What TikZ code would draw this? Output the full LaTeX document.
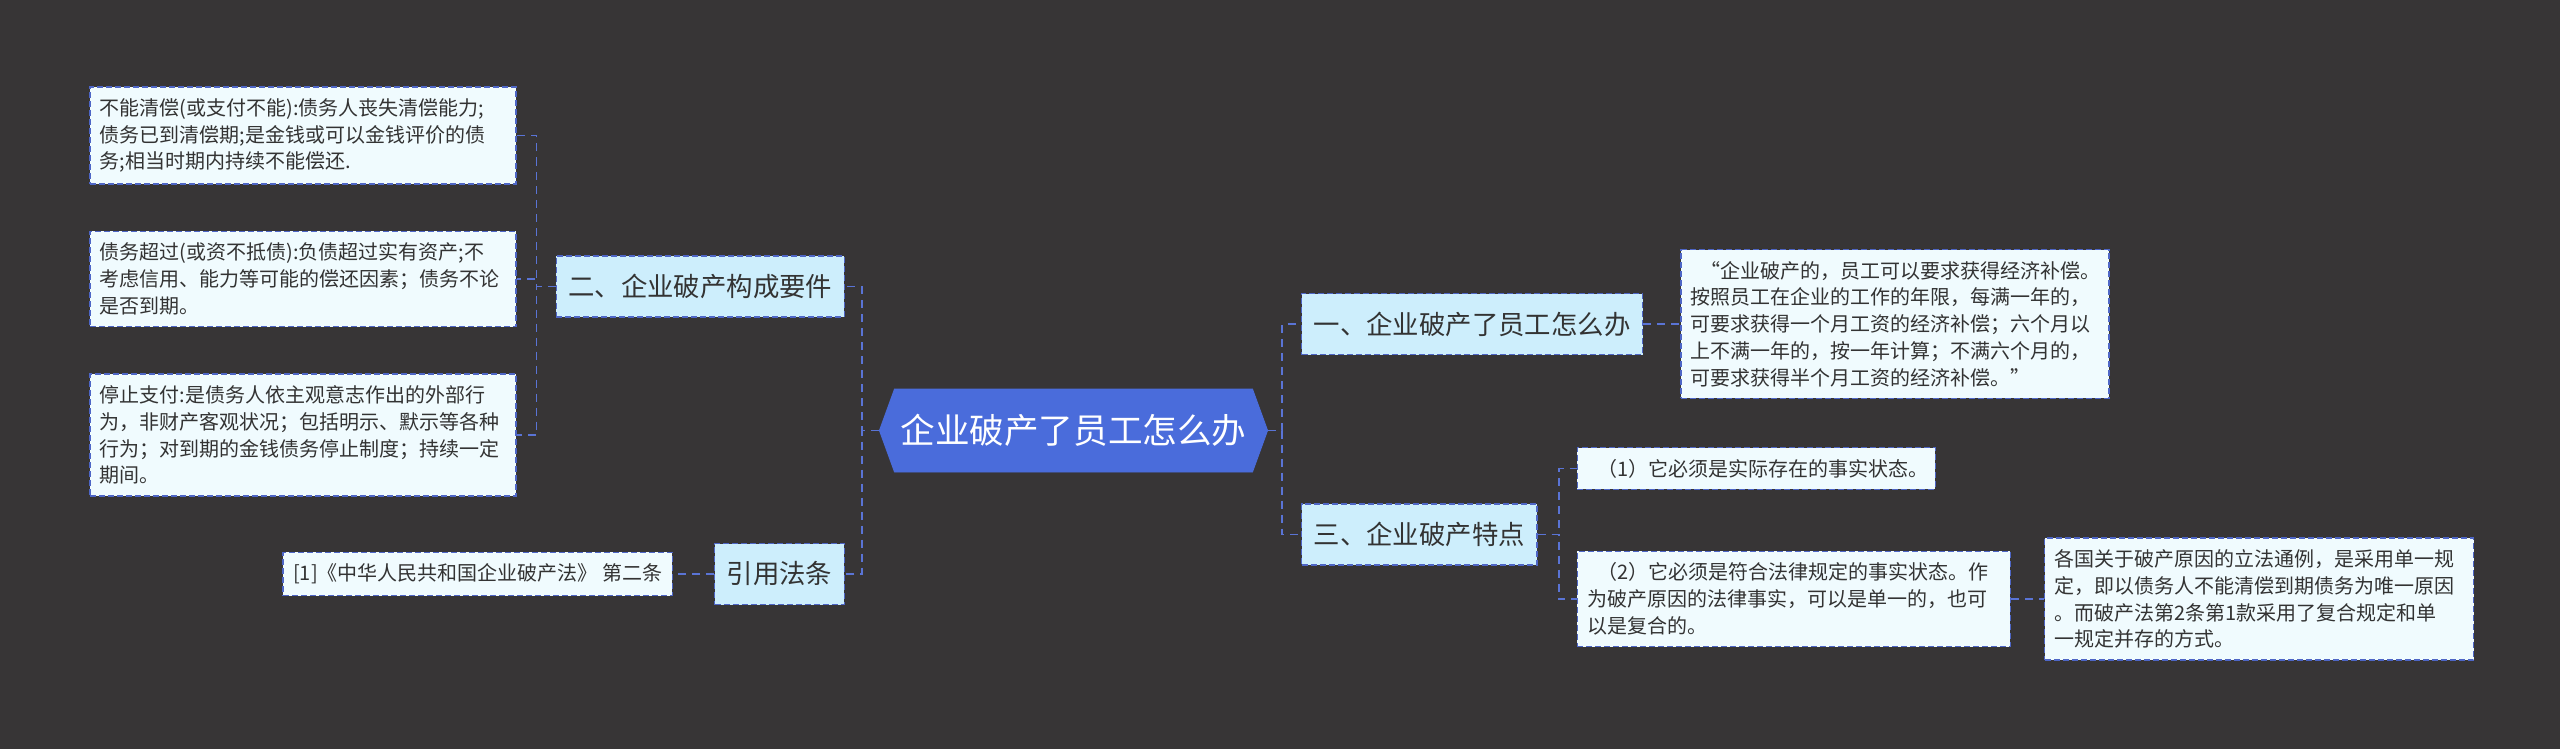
\documentclass[tikz,border=0pt]{standalone}
\usepackage{fontspec}
\setmainfont{Noto Sans CJK SC}
\usepackage{tikz}
\usetikzlibrary{positioning, shapes.symbols}
\definecolor{bgdark}{HTML}{373536}
\definecolor{inkgray}{HTML}{333333}
\definecolor{rootblue}{HTML}{4A6CDB}
\definecolor{edgeblue}{HTML}{4E66C6}
\definecolor{linkblue}{HTML}{5A74D6}
\definecolor{branchfill}{HTML}{CDEEFC}
\definecolor{leaffill}{HTML}{F0FBFE}

\begin{document}
\begin{tikzpicture}[
  node distance=19pt,
  every node/.style={text=inkgray},
  root/.style={signal, signal to=west and east, signal pointer angle=140,
    fill=rootblue, draw=rootblue, text=white, inner xsep=3pt,
    minimum height=41.5pt, font=\fontsize{17.3pt}{20pt}\selectfont},
  branch/.style={rectangle, draw=edgeblue, fill=branchfill, line width=0.7pt,
    dash pattern=on 3pt off 1.5pt, minimum height=30.5pt, inner xsep=6pt,
    font=\fontsize{13.2pt}{16pt}\selectfont},
  leaf/.style={rectangle, draw=edgeblue, fill=leaffill, line width=0.7pt,
    dash pattern=on 3pt off 1.5pt, align=left, inner xsep=5pt, inner ysep=5.7pt,
    font=\fontsize{10pt}{13.4pt}\selectfont},
  link/.style={draw=linkblue, line width=0.9pt, dash pattern=on 4pt off 3pt}
]
\path[use as bounding box, fill=bgdark] (0,0) rectangle (1280pt,-374.5pt);

% Root and branches
\node (Root) [root] at (536.75pt,-215.25pt) {企业破产了员工怎么办};
\node (Req) [branch, left=17pt of Root, yshift=72pt] {二、企业破产构成要件};
\node (Law) [branch, left=17pt of Root, yshift=-71.75pt] {引用法条};
\node (Staff) [branch, right=16.5pt of Root, yshift=53.25pt] {一、企业破产了员工怎么办};
\node (Feat) [branch, right=16.5pt of Root, yshift=-52pt] {三、企业破产特点};

% Left leaves
\node (Insolv) [leaf, text width=203pt, left=19.5pt of Req, yshift=75.5pt] {不能清偿(或支付不能):债务人丧失清偿能力;\\债务已到清偿期;是金钱或可以金钱评价的债\\务;相当时期内持续不能偿还.};
\node (Excess) [leaf, text width=203pt, left=19.5pt of Req, yshift=3.75pt] {债务超过(或资不抵债):负债超过实有资产;不\\考虑信用、能力等可能的偿还因素；债务不论\\是否到期。};
\node (Halt) [leaf, text width=203pt, left=19.5pt of Req, yshift=-74.25pt] {停止支付:是债务人依主观意志作出的外部行\\为，非财产客观状况；包括明示、默示等各种\\行为；对到期的金钱债务停止制度；持续一定\\期间。};
\node (Cite) [leaf, left=20.5pt of Law] {[1]《中华人民共和国企业破产法》 第二条};

% Right leaves
\node (Comp) [leaf, text width=204pt, right=18.5pt of Staff] {\hspace*{0.5em}“企业破产的，员工可以要求获得经济补偿。\\按照员工在企业的工作的年限，每满一年的，\\可要求获得一个月工资的经济补偿；六个月以\\上不满一年的，按一年计算；不满六个月的，\\可要求获得半个月工资的经济补偿。”};
\node (Real) [leaf, text width=169pt, right=19.5pt of Feat, yshift=33pt] {\hspace*{0.5em}（1）它必须是实际存在的事实状态。};
\node (Legal) [leaf, text width=206.5pt, right=19.5pt of Feat, yshift=-32.25pt] {\hspace*{0.5em}（2）它必须是符合法律规定的事实状态。作\\为破产原因的法律事实，可以是单一的，也可\\以是复合的。};
\node (Cause) [leaf, text width=204.5pt, right=16.5pt of Legal] {各国关于破产原因的立法通例，是采用单一规\\定，即以债务人不能清偿到期债务为唯一原因\\。而破产法第2条第1款采用了复合规定和单\\一规定并存的方式。};

% Connectors
\draw[link] (Root.west) -- ++(-8.5pt,0) |- (Req.east);
\draw[link] (Root.west) -- ++(-8.5pt,0) |- (Law.east);
\draw[link] (Root.east) -- ++(7pt,0) |- (Staff.west);
\draw[link] (Root.east) -- ++(7pt,0) |- (Feat.west);
\draw[link] (Req.west) -- ++(-9.5pt,0) |- (Insolv.east);
\draw[link] (Req.west) -- ++(-9.5pt,0) |- (Excess.east);
\draw[link] (Req.west) -- ++(-9.5pt,0) |- (Halt.east);
\draw[link] (Law.west) -- (Cite.east);
\draw[link] (Staff.east) -- (Comp.west);
\draw[link] (Feat.east) -- ++(10.5pt,0) |- (Real.west);
\draw[link] (Feat.east) -- ++(10.5pt,0) |- (Legal.west);
\draw[link] (Legal.east) -- (Cause.west);
\end{tikzpicture}
\end{document}
